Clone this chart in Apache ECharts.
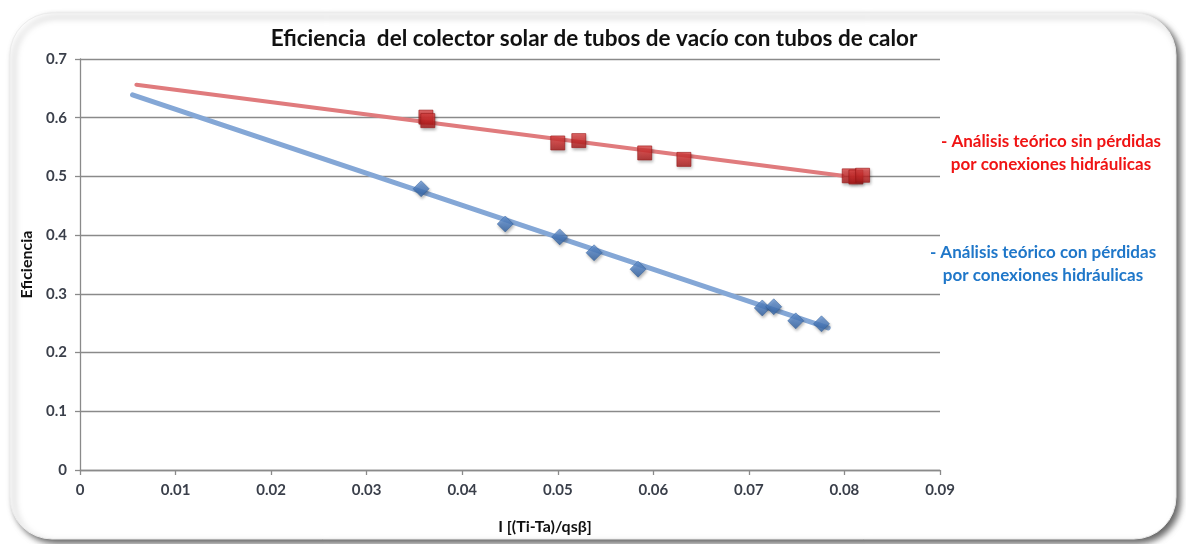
<!DOCTYPE html>
<html>
<head>
<meta charset="utf-8">
<script src="https://cdn.jsdelivr.net/npm/echarts@6/dist/echarts.min.js"></script>
<style>
  html, body { margin: 0; padding: 0; background: #ffffff; }
  #chart { width: 1186px; height: 544px; }
</style>
</head>
<body>
<div id="chart"></div>
<script>
// Measured points: x = I[(Ti-Ta)/qsβ], y = efficiency
const sinPerdidasX = [0.0362, 0.0364, 0.0500, 0.0522, 0.0591, 0.0632, 0.0805, 0.0812, 0.0819];
const sinPerdidasY = [0.601, 0.595, 0.557, 0.561, 0.540, 0.529, 0.501, 0.499, 0.502];
const conPerdidasX = [0.0357, 0.0445, 0.0502, 0.0538, 0.0584, 0.0714, 0.0726, 0.0749, 0.0776];
const conPerdidasY = [0.479, 0.419, 0.397, 0.370, 0.342, 0.276, 0.278, 0.254, 0.249];

// Linear trend lines (start and end)
const trendSinX = [0.0059, 0.0798];
const trendSinY = [0.656, 0.501];
const trendConX = [0.0055, 0.0783];
const trendConY = [0.639, 0.242];

const xTickLabels = ['0', '0.01', '0.02', '0.03', '0.04', '0.05', '0.06', '0.07', '0.08', '0.09'];
const yTickLabels = ['0', '0.1', '0.2', '0.3', '0.4', '0.5', '0.6', '0.7'];

const zip = (xs, ys) => xs.map((x, i) => [x, ys[i]]);

const FONT = 'Lato, "Open Sans", sans-serif';
const chart = echarts.init(document.getElementById('chart'), null, { renderer: 'canvas' });

chart.setOption({
  backgroundColor: '#ffffff',
  animation: false,
  graphic: [
    {
      type: 'rect',
      z: -10,
      silent: true,
      shape: { x: 10, y: 13, width: 1166, height: 526, r: 42 },
      style: {
        fill: '#ffffff',
        stroke: '#ececec',
        lineWidth: 1,
        shadowColor: 'rgba(0,0,0,0.6)',
        shadowBlur: 6,
        shadowOffsetX: 4,
        shadowOffsetY: 4
      }
    },
    {
      type: 'text',
      x: 1051, y: 130,
      style: {
        text: '- Análisis teórico sin pérdidas\npor conexiones hidráulicas',
        fill: '#f01414', font: 'bold 17px ' + FONT, lineHeight: 23, align: 'center'
      }
    },
    {
      type: 'text',
      x: 1043, y: 241,
      style: {
        text: '- Análisis teórico con pérdidas\npor conexiones hidráulicas',
        fill: '#1f77c9', font: 'bold 17px ' + FONT, lineHeight: 23, align: 'center'
      }
    },
    {
      type: 'text',
      x: 545, y: 527,
      style: {
        text: 'I [(Ti-Ta)/qsβ]',
        fill: '#111111', font: 'bold 16px ' + FONT, align: 'center', verticalAlign: 'middle'
      }
    }
  ],
  title: {
    text: 'Eficiencia  del colector solar de tubos de vacío con tubos de calor',
    left: 589, top: 22, textAlign: 'center',
    textStyle: { fontFamily: FONT, fontWeight: 'bold', fontSize: 22.5, color: '#111111' }
  },
  grid: { left: 80, right: 246, top: 59, bottom: 74, containLabel: false },
  xAxis: {
    type: 'value', min: 0, max: 0.09, interval: 0.01,
    axisLine: { lineStyle: { color: '#8a8a8a', width: 1.3 } },
    axisTick: { show: true, length: 5, lineStyle: { color: '#8a8a8a', width: 1.3 } },
    axisLabel: {
      margin: 13, fontFamily: FONT, fontWeight: 'bold', fontSize: 15, color: '#3a3f4a',
      formatter: (v) => xTickLabels[Math.round(v / 0.01)]
    },
    splitLine: { show: false }
  },
  yAxis: {
    type: 'value', min: 0, max: 0.7, interval: 0.1,
    name: 'Eficiencia', nameLocation: 'middle', nameGap: 41, nameRotate: 90,
    nameTextStyle: { fontFamily: FONT, fontWeight: 'bold', fontSize: 16, color: '#111111' },
    axisLine: { show: true, lineStyle: { color: '#8a8a8a', width: 1.3 } },
    axisTick: { show: true, length: 5, lineStyle: { color: '#8a8a8a', width: 1.3 } },
    axisLabel: {
      margin: 13, fontFamily: FONT, fontWeight: 'bold', fontSize: 15, color: '#3a3f4a',
      formatter: (v) => yTickLabels[Math.round(v / 0.1)]
    },
    splitLine: { show: true, lineStyle: { color: '#8a8a8a', width: 1.3 } }
  },
  series: [
    {
      name: 'Tendencia sin pérdidas', type: 'line', data: zip(trendSinX, trendSinY),
      showSymbol: false, symbol: 'none', z: 2,
      lineStyle: { color: '#e07b7d', width: 4, cap: 'round' }
    },
    {
      name: 'Tendencia con pérdidas', type: 'line', data: zip(trendConX, trendConY),
      showSymbol: false, symbol: 'none', z: 2,
      lineStyle: { color: '#84a7d6', width: 5, cap: 'round' }
    },
    {
      name: 'Sin pérdidas', type: 'scatter', data: zip(sinPerdidasX, sinPerdidasY),
      symbol: 'rect', symbolSize: 14, z: 5,
      itemStyle: {
        color: new echarts.graphic.LinearGradient(0, 0, 0, 1, [
          { offset: 0, color: '#e64848' },
          { offset: 0.5, color: '#cc2a2a' },
          { offset: 1, color: '#a61818' }
        ]),
        borderColor: '#9a1616', borderWidth: 0.8,
        shadowColor: 'rgba(0,0,0,0.35)', shadowBlur: 3, shadowOffsetX: 1, shadowOffsetY: 2
      }
    },
    {
      name: 'Con pérdidas', type: 'scatter', data: zip(conPerdidasX, conPerdidasY),
      symbol: 'diamond', symbolSize: 16, z: 5,
      itemStyle: {
        color: new echarts.graphic.LinearGradient(0, 0, 0, 1, [
          { offset: 0, color: '#6d9ad8' },
          { offset: 0.5, color: '#4a7cc0' },
          { offset: 1, color: '#2f5f9f' }
        ]),
        borderColor: '#2d5a96', borderWidth: 0.6,
        shadowColor: 'rgba(0,0,0,0.35)', shadowBlur: 3, shadowOffsetX: 1, shadowOffsetY: 2
      }
    }
  ]
});
</script>
</body>
</html>
